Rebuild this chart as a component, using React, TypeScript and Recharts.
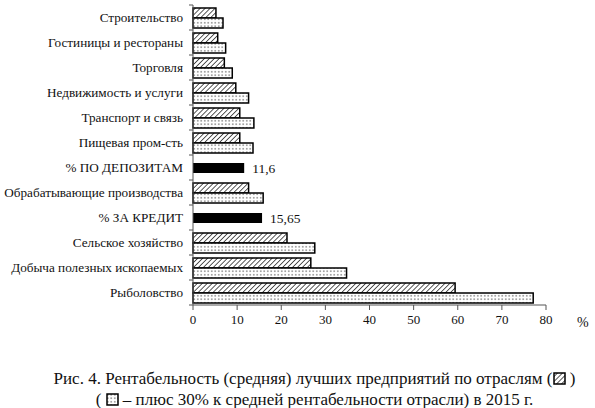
import React from "react";
import {
  BarChart,
  Bar,
  XAxis,
  YAxis,
  LabelList,
  Label,
} from "recharts";

// отрасли сверху вниз, как на рисунке
const categories = [
  "Строительство",
  "Гостиницы и рестораны",
  "Торговля",
  "Недвижимость и услуги",
  "Транспорт и связь",
  "Пищевая пром-сть",
  "% ПО ДЕПОЗИТАМ",
  "Обрабатывающие производства",
  "% ЗА КРЕДИТ",
  "Сельское хозяйство",
  "Добыча полезных ископаемых",
  "Рыболовство",
];
const avgValues = [5.2, 5.6, 7.1, 9.7, 10.6, 10.6, null, 12.6, null, 21.3, 26.7, 59.4];
const plusValues = [6.8, 7.4, 8.9, 12.6, 13.8, 13.6, null, 15.9, null, 27.6, 34.8, 77.1];
const rateValues = [null, null, null, null, null, null, 11.6, null, 15.65, null, null, null];
const xTicks = [0, 10, 20, 30, 40, 50, 60, 70, 80];

const data = categories.map((name, i) => ({
  name,
  avg: avgValues[i],
  plus: plusValues[i],
  rate: rateValues[i],
}));

const FONT = "'Liberation Serif', 'Times New Roman', serif";
const BAND = 300 / categories.length;

function CategoryTick(props: any) {
  const { x, y, payload, index } = props;
  const axisX = x + 10;
  return (
    <g>
      <line x1={axisX - 4} x2={axisX} y1={y - BAND / 2} y2={y - BAND / 2} stroke="#555" />
      {index === categories.length - 1 && (
        <line x1={axisX - 4} x2={axisX} y1={y + BAND / 2} y2={y + BAND / 2} stroke="#555" />
      )}
      <text x={x} y={y} dy={4} textAnchor="end" fontSize={13.2} fontFamily={FONT} fill="#111">
        {payload.value}
      </text>
    </g>
  );
}

function Swatch({ fill }: { fill: string }) {
  return (
    <svg width={13} height={13} style={{ verticalAlign: "-1px" }}>
      <rect x={1} y={1} width={11} height={11} fill={fill} stroke="#000" strokeWidth={1.5} />
    </svg>
  );
}

const captionLine: React.CSSProperties = {
  position: "absolute",
  left: 34,
  right: 0,
  height: 16,
  lineHeight: "16px",
  textAlign: "center",
  whiteSpace: "nowrap",
};

export default function App() {
  return (
    <div style={{ position: "absolute", left: 0, top: 0, width: 595, height: 408, background: "#fff", overflow: "hidden" }}>
      <svg width={0} height={0} style={{ position: "absolute" }}>
        <defs>
          <pattern id="hatch" width={3.5} height={3.5} patternUnits="userSpaceOnUse" patternTransform="rotate(45)">
            <rect width={3.5} height={3.5} fill="#fff" />
            <line x1={0} y1={0} x2={0} y2={3.5} stroke="#000" strokeWidth={1.3} />
          </pattern>
          <pattern id="dots" width={3.5} height={3.5} patternUnits="userSpaceOnUse">
            <rect width={3.5} height={3.5} fill="#fff" />
            <circle cx={1.75} cy={1.75} r={0.6} fill="#000" />
          </pattern>
        </defs>
      </svg>
      <BarChart
        width={595}
        height={340}
        data={data}
        layout="vertical"
        margin={{ top: 5, right: 49, bottom: 0, left: 0 }}
        barGap={0}
      >
        <XAxis
          type="number"
          domain={[0, 80]}
          ticks={xTicks}
          stroke="#555"
          tickSize={5}
          tickMargin={5}
          height={35}
          tick={{ fill: "#111", fontSize: 13, fontFamily: FONT }}
        >
          <Label value="%" position="right" offset={31} fill="#111" fontSize={14} fontFamily={FONT} />
        </XAxis>
        <YAxis
          type="category"
          dataKey="name"
          width={193}
          stroke="#555"
          tickLine={false}
          tickSize={6}
          tickMargin={4}
          interval={0}
          tick={<CategoryTick />}
        />
        <YAxis yAxisId="rate" type="category" dataKey="name" hide />
        <Bar dataKey="avg" barSize={10} fill="url(#hatch)" stroke="#000" strokeWidth={1.5} isAnimationActive={false} />
        <Bar dataKey="plus" barSize={10} fill="url(#dots)" stroke="#000" strokeWidth={1.5} isAnimationActive={false} />
        <Bar yAxisId="rate" dataKey="rate" barSize={10} fill="#000" isAnimationActive={false}>
          <LabelList
            dataKey="rate"
            position="right"
            offset={8}
            fill="#111"
            fontSize={13.5}
            fontFamily={FONT}
            formatter={(v: any) => (v == null ? "" : String(v).replace(".", ","))}
          />
        </Bar>
      </BarChart>
      <div style={{ fontFamily: FONT, fontSize: 17, color: "#111" }}>
        <div style={{ ...captionLine, top: 371 }}>
          Рис. 4. Рентабельность (средняя) лучших предприятий по отраслям (<Swatch fill="url(#hatch)" /> )
        </div>
        <div style={{ ...captionLine, top: 392 }}>
          ( <Swatch fill="url(#dots)" /> – плюс 30% к средней рентабельности отрасли) в 2015 г.
        </div>
      </div>
    </div>
  );
}
